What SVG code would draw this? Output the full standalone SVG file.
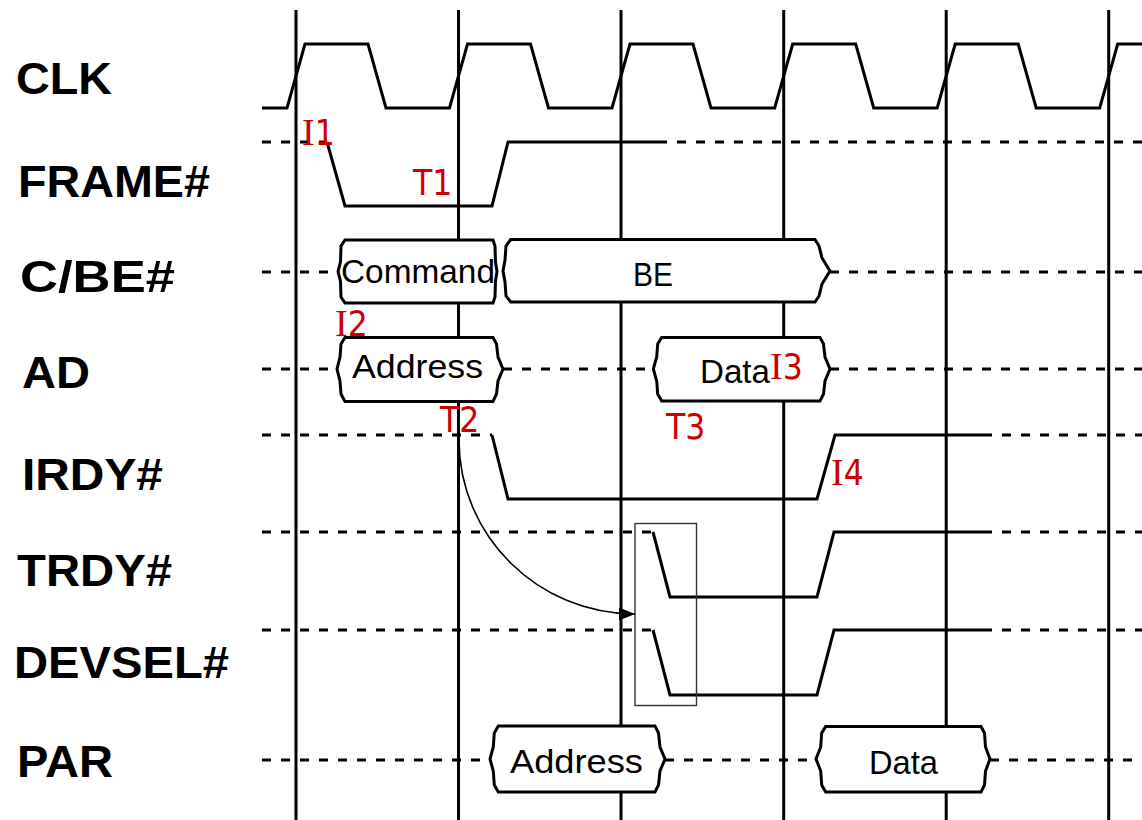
<svg xmlns="http://www.w3.org/2000/svg" width="1142" height="820" viewBox="0 0 1142 820">
<style>
.bg{fill:#ffffff}
.grid{stroke:#000;stroke-width:3;fill:none}
.wave{stroke:#000;stroke-width:3;fill:none;stroke-linejoin:miter}
.dash{stroke:#000;stroke-width:3;fill:none;stroke-dasharray:9 10}
.bus{stroke:#000;stroke-width:3;fill:#fff;stroke-linejoin:miter}
.lbl{font-family:"Liberation Sans",Arial,sans-serif;font-weight:bold;font-size:45px;fill:#000}
.bt{font-family:"Liberation Sans",Arial,sans-serif;font-size:34px;fill:#000}
.red{font-family:"DejaVu Sans Condensed","DejaVu Sans",sans-serif;font-size:35px;fill:#cc0000}
.ser{font-family:"Liberation Serif","Times New Roman",serif;font-size:38px}
.hl{stroke:#333;stroke-width:1.4;fill:none}
.arr{stroke:#000;stroke-width:1.6;fill:none}
</style>
<defs>
<marker id="ah" markerUnits="userSpaceOnUse" markerWidth="17" markerHeight="14" refX="16" refY="6.5" orient="auto">
<path d="M0,0 L16,6.5 L0,13 Z" fill="#000"/>
</marker>
</defs>
<rect class="bg" x="0" y="0" width="1142" height="820"/>
<g id="clock-grid">
<path class="grid" d="M296,10 V820 M458.5,10 V820 M621,10 V820 M783.7,10 V820 M946.2,10 V820 M1108.7,10 V820"/>
</g>
<g id="sig-clk">
<text class="lbl" x="16" y="94" textLength="96" lengthAdjust="spacingAndGlyphs">CLK</text>
<path class="wave" d="M262,108 H287 L305,44 H368 L386,108 H449.5 L467.5,44 H530.5 L548.5,108 H612 L630,44 H693 L711,108 H774.7 L792.7,44 H855.7 L873.7,108 H937.2 L955.2,44 H1018.2 L1036.2,108 H1099.7 L1117.7,44 H1142"/>
</g>
<g id="sig-frame">
<text class="lbl" x="18" y="197" textLength="192" lengthAdjust="spacingAndGlyphs">FRAME#</text>
<path class="dash" d="M262,142 H327 M658,142 H1142"/>
<path class="wave" d="M327,142 L345,206 H492 L508,142 H658"/>
</g>
<g id="sig-cbe">
<text class="lbl" x="20" y="292" textLength="155" lengthAdjust="spacingAndGlyphs">C/BE#</text>
<path class="dash" d="M262,272 H338 M830,272 H1142"/>
<path class="bus" d="M345,240 H493 L495,246 L495.5,262 L497,271.5 L495.5,281 L495,297 L493,303 H345 L341,297 L340.5,281 L338,271.5 L340.5,262 L341,246 Z"/>
<text class="bt" x="341" y="283" textLength="154" lengthAdjust="spacingAndGlyphs">Command</text>
<path class="bus" d="M510.7,239.5 H815 L819,246 L822,258 L830,271 L822,284 L819,296 L815,302 H510.7 L506,296 L505,282 L503,271 L505,260 L506,246 Z"/>
<text class="bt" x="633" y="286" textLength="40" lengthAdjust="spacingAndGlyphs">BE</text>
</g>
<g id="sig-ad">
<text class="lbl" x="22" y="388" textLength="68" lengthAdjust="spacingAndGlyphs">AD</text>
<path class="dash" d="M262,369 H337 M503,369 H653 M830,369 H1142"/>
<path class="bus" d="M345,337.5 H493 L496.5,344 L498,357 L503,369 L498,381 L496.5,394 L493,401.5 H345 L341,394 L340,381 L337,369 L340,357 L341,344 Z"/>
<text class="bt" x="352" y="378" textLength="131" lengthAdjust="spacingAndGlyphs">Address</text>
<path class="bus" d="M661.7,337.5 H820 L823.5,344 L825,357 L830,369 L825,381 L823.5,394 L820,401 H661.7 L657.7,394 L656.7,381 L653.3,369 L656.7,357 L657.7,344 Z"/>
<text class="bt" x="700" y="383" textLength="70" lengthAdjust="spacingAndGlyphs">Data</text>
</g>
<g id="sig-irdy">
<text class="lbl" x="22" y="490" textLength="141" lengthAdjust="spacingAndGlyphs">IRDY#</text>
<path class="dash" d="M262,435 H492 M983,435 H1142"/>
<path class="wave" d="M492,435 L508,499 H817 L835,435 H983"/>
</g>
<g id="sig-trdy">
<text class="lbl" x="17" y="586" textLength="155" lengthAdjust="spacingAndGlyphs">TRDY#</text>
<path class="dash" d="M262,532 H653 M983,532 H1142"/>
<path class="wave" d="M653,532 L670,597 H817 L834,532 H983"/>
</g>
<g id="sig-devsel">
<text class="lbl" x="14" y="678" textLength="215" lengthAdjust="spacingAndGlyphs">DEVSEL#</text>
<path class="dash" d="M262,630 H653 M983,630 H1142"/>
<path class="wave" d="M653,630 L670,695 H817 L834,630 H983"/>
</g>
<g id="sig-par">
<text class="lbl" x="17" y="777" textLength="96" lengthAdjust="spacingAndGlyphs">PAR</text>
<path class="dash" d="M262,760 H490 M665,760 H816 M990,760 H1142"/>
<path class="bus" d="M498.3,726 H655 L658.5,733 L660,747 L665,759 L660,771 L658.5,785 L655,792 H498.3 L494.3,785 L493.3,771 L490,759 L493.3,747 L494.3,733 Z"/>
<text class="bt" x="510" y="773" textLength="133" lengthAdjust="spacingAndGlyphs">Address</text>
<path class="bus" d="M825.7,726.5 H981 L984.5,733 L985.5,747 L990,759 L985.5,771 L984.5,785 L981,792 H825.7 L821.7,785 L820.7,771 L816,759 L820.7,747 L821.7,733 Z"/>
<text class="bt" x="869" y="774" textLength="69" lengthAdjust="spacingAndGlyphs">Data</text>
</g>
<g id="annotations">
<text class="red" x="302" y="145"><tspan class="ser">I</tspan>1</text>
<text class="red" x="413" y="195">T1</text>
<text class="red" x="335" y="336"><tspan class="ser">I</tspan>2</text>
<text class="red" x="440" y="432">T2</text>
<text class="red" x="770" y="379"><tspan class="ser">I</tspan>3</text>
<text class="red" x="666" y="439">T3</text>
<text class="red" x="831" y="485"><tspan class="ser">I</tspan>4</text>
</g>
<g id="highlight">
<rect class="hl" x="635" y="523.5" width="61.5" height="182"/>
</g>
<g id="connectors">
<path class="arr" d="M459,440 C459,536 538,614 635,614" marker-end="url(#ah)"/>
</g>
</svg>
